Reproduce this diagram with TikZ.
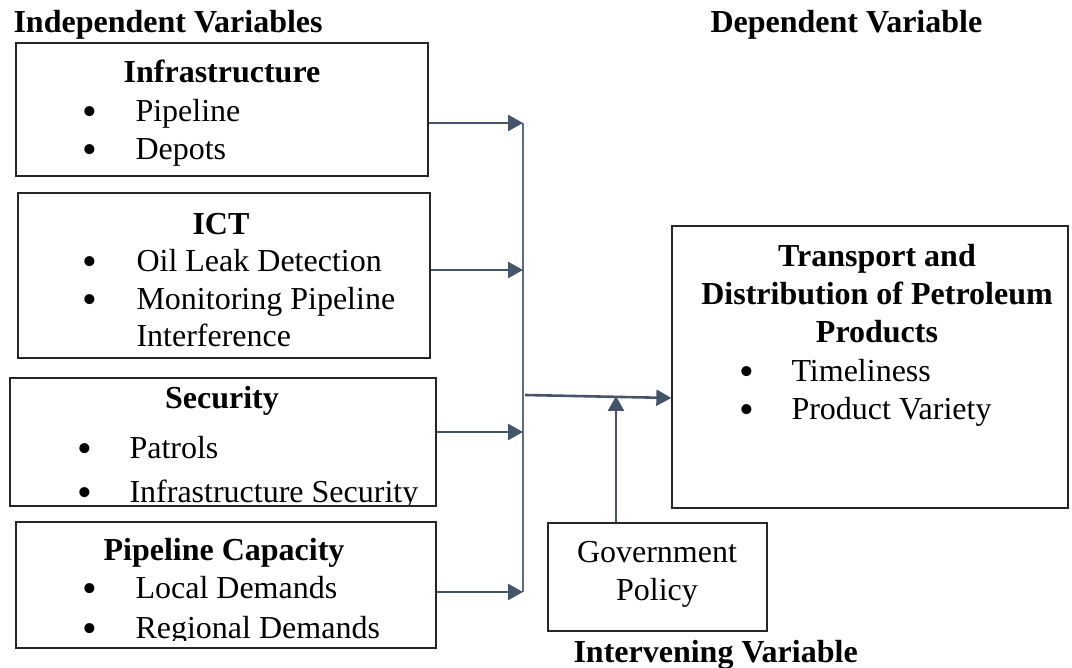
\documentclass[tikz,border=0pt]{standalone}
\usepackage{fontspec}
\setmainfont{Liberation Serif}
\usetikzlibrary{arrows.meta}
\definecolor{linkblue}{HTML}{44546A}
\definecolor{busblue}{HTML}{5B6B82}
\newcommand{\diagfont}{\fontsize{32}{38}\selectfont}
\begin{document}
\begin{tikzpicture}[x=1pt,y=-1pt,font=\diagfont,
	box/.style={draw=black!85, line width=1.3pt, inner sep=0pt},
	ttl/.style={font=\diagfont\bfseries, anchor=base},
	head/.style={font=\diagfont\bfseries, anchor=base west},
	txt/.style={anchor=base},
	bul/.style={font=\fontsize{42}{42}\selectfont, anchor=base, yshift=-4pt},
	itm/.style={anchor=base west},
	link/.style={draw=linkblue, line width=2.6pt, -{Triangle[length=15pt,width=16pt]}},
	bus/.style={draw=busblue, line width=1.6pt}]
	\useasboundingbox (0,0) rectangle (1072,668);
	% headings
	\node (hind) at (10,33)		[head]	{Independent Variables};
	\node (hdep) at (707,33)	[head]	{Dependent Variable};
	\node (hint) at (570,662)	[head]	{Intervening Variable};
	% boxes
	\node (infra) at (222,109.5)	[box, minimum width=412pt, minimum height=133pt]	{};
	\node (ict)   at (224,275.5)	[box, minimum width=412pt, minimum height=165pt]	{};
	\node (sec)   at (223,442)	[box, minimum width=426pt, minimum height=128pt]	{};
	\node (cap)   at (226,585)	[box, minimum width=420pt, minimum height=126pt]	{};
	\node (tdp)   at (870,367)	[box, minimum width=396pt, minimum height=282pt]	{};
	\node (gov)   at (657.5,577)	[box, minimum width=219pt, minimum height=108pt]	{};
	% infrastructure
	\node (infraT) at (222,83)	[ttl]	{Infrastructure};
	\node (infraB1) at (90,122)	[bul]	{•};
	\node (infraI1) at (132,122)	[itm]	{Pipeline};
	\node (infraB2) at (90,160)	[bul]	{•};
	\node (infraI2) at (132,160)	[itm]	{Depots};
	% ict
	\node (ictT) at (221,235)	[ttl]	{ICT};
	\node (ictB1) at (90,272)	[bul]	{•};
	\node (ictI1) at (133,272)	[itm]	{Oil Leak Detection};
	\node (ictB2) at (90,310)	[bul]	{•};
	\node (ictI2) at (133,310)	[itm]	{Monitoring Pipeline};
	\node (ictI3) at (133,347)	[itm]	{Interference};
	% security
	\begin{scope}
		\clip (10,378) rectangle (436,504);
		\node (secT) at (222,409)	[ttl]	{Security};
		\node (secB1) at (85,459)	[bul]	{•};
		\node (secI1) at (126,459)	[itm]	{Patrols};
		\node (secB2) at (85,502)	[bul]	{•};
		\node (secI2) at (126,502)	[itm]	{Infrastructure Security};
	\end{scope}
	% pipeline capacity
	\begin{scope}
		\clip (16,522) rectangle (436,640);
		\node (capT) at (224,560)	[ttl]	{Pipeline Capacity};
		\node (capB1) at (90,598)	[bul]	{•};
		\node (capI1) at (132,598)	[itm]	{Local Demands};
		\node (capB2) at (90,638)	[bul]	{•};
		\node (capI2) at (132,638)	[itm]	{Regional Demands};
	\end{scope}
	% transport and distribution
	\node (tdpT1) at (877,267)	[ttl]	{Transport and};
	\node (tdpT2) at (877,305)	[ttl]	{Distribution of Petroleum};
	\node (tdpT3) at (877,343)	[ttl]	{Products};
	\node (tdpB1) at (747,382)	[bul]	{•};
	\node (tdpI1) at (788,382)	[itm]	{Timeliness};
	\node (tdpB2) at (747,420)	[bul]	{•};
	\node (tdpI2) at (788,420)	[itm]	{Product Variety};
	% government policy
	\node (govT1) at (657,562)	[txt]	{Government};
	\node (govT2) at (657,600)	[txt]	{Policy};
	% connectors
	\coordinate (j1) at (523,123);
	\coordinate (j2) at (523,270);
	\coordinate (j3) at (523,432);
	\coordinate (j4) at (523,592);
	\coordinate (jout) at (525,395);
	\coordinate (hit) at (670,398);
	\coordinate (gp) at (616,396);
	\draw[bus] (j1) -- (j4);
	\draw[link] (infra.east |- j1) -- (j1);
	\draw[link] (ict.east |- j2) -- (j2);
	\draw[link] (sec.east |- j3) -- (j3);
	\draw[link] (cap.east |- j4) -- (j4);
	\draw[link] (jout) -- (tdp.west |- hit);
	\draw[link] (gov.north -| gp) -- (gp);
\end{tikzpicture}
\end{document}
